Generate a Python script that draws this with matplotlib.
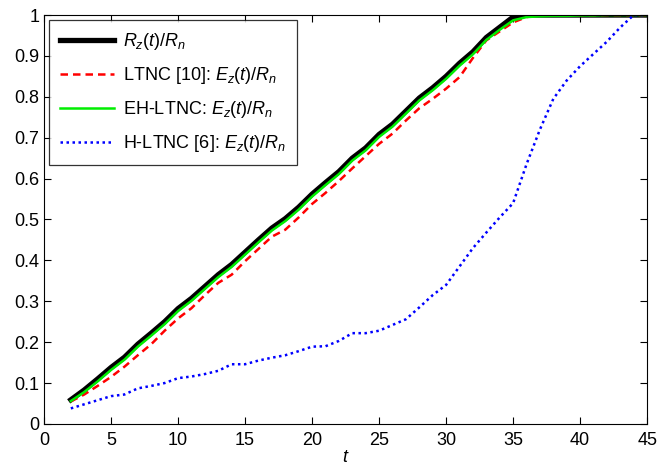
#
# Normalised rate/energy curves vs t, MATLAB-style figure.
#
import numpy as np
import matplotlib
matplotlib.use('Agg')
import matplotlib.pyplot as plt

plt.rcParams.update({
    "font.family": "Liberation Sans",
    "font.size": 13,
    "mathtext.fontset": "custom",
    "mathtext.rm": "Liberation Sans",
    "mathtext.it": "Liberation Sans:italic",
})

t = list(range(2, 46))

r_z = [0.059, 0.083, 0.110, 0.138, 0.163, 0.195, 0.222, 0.250, 0.282, 0.307,
       0.336, 0.365, 0.390, 0.420, 0.450, 0.479, 0.502, 0.530, 0.562, 0.590,
       0.617, 0.650, 0.675, 0.708, 0.733, 0.765, 0.797, 0.822, 0.850, 0.882,
       0.910, 0.945, 0.970, 0.995, 1.000, 1.000, 1.000, 1.000, 1.000, 1.000,
       1.000, 1.000, 1.000, 1.000]

ltnc = [0.055, 0.072, 0.093, 0.115, 0.140, 0.168, 0.195, 0.228, 0.258, 0.283,
        0.315, 0.345, 0.365, 0.398, 0.428, 0.458, 0.475, 0.505, 0.538, 0.565,
        0.594, 0.625, 0.655, 0.685, 0.710, 0.742, 0.772, 0.795, 0.820, 0.848,
        0.895, 0.938, 0.960, 0.982, 0.995, 1.000, 1.000, 1.000, 1.000, 1.000,
        1.000, 1.000, 1.000, 1.000]

eh_ltnc = [0.056, 0.078, 0.104, 0.132, 0.157, 0.189, 0.216, 0.244, 0.276, 0.301,
           0.330, 0.359, 0.384, 0.414, 0.444, 0.473, 0.496, 0.524, 0.556, 0.584,
           0.611, 0.644, 0.669, 0.702, 0.727, 0.759, 0.791, 0.816, 0.844, 0.876,
           0.904, 0.939, 0.964, 0.987, 0.995, 0.997, 0.998, 0.998, 0.999, 0.999,
           1.000, 1.000, 1.000, 1.000]

h_ltnc = [0.038, 0.048, 0.058, 0.068, 0.072, 0.087, 0.093, 0.100, 0.112, 0.116,
          0.122, 0.130, 0.146, 0.146, 0.155, 0.162, 0.168, 0.178, 0.189, 0.190,
          0.203, 0.222, 0.222, 0.228, 0.242, 0.256, 0.285, 0.315, 0.340, 0.385,
          0.430, 0.468, 0.505, 0.540, 0.635, 0.720, 0.795, 0.840, 0.875, 0.905,
          0.935, 0.970, 1.000, 1.000]

fig = plt.figure(figsize=(6.72, 4.70), dpi=100)
ax = fig.add_axes([0.0655, 0.098, 0.8975, 0.870])

ax.plot(t, r_z, color='black', lw=3.8, label='$R_z(t)/R_n$')
ax.plot(t, ltnc, color='red', lw=1.8, ls=(0, (3, 2)), label='LTNC [10]: $E_z(t)/R_n$')
ax.plot(t, eh_ltnc, color='#00ee00', lw=1.8, label='EH-LTNC: $E_z(t)/R_n$')
ax.plot(t, h_ltnc, color='blue', lw=1.8, ls=(0, (1, 1.4)), label='H-LTNC [6]: $E_z(t)/R_n$')

ax.set_xlim(0, 45)
ax.set_ylim(0, 1)
ax.set_xticks(range(0, 46, 5))
ax.set_yticks(np.arange(0, 1.01, 0.1))
ax.set_yticklabels(['0', '0.1', '0.2', '0.3', '0.4', '0.5', '0.6', '0.7', '0.8', '0.9', '1'])
ax.tick_params(direction='in', top=True, right=True, length=5, width=0.8)
ax.tick_params(axis='x', pad=6)
ax.set_xlabel('$t$', labelpad=0)

leg = ax.legend(loc='upper left', fancybox=False, edgecolor='black',
                handlelength=3.0, handletextpad=0.45, borderpad=0.6,
                borderaxespad=0.3, labelspacing=0.72)
leg.get_frame().set_linewidth(0.9)

plt.savefig('out.png')
plt.close()
